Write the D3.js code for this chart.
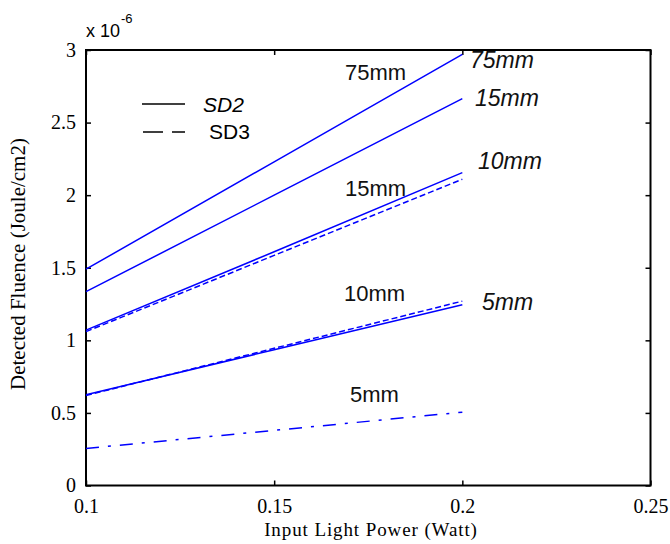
<!DOCTYPE html>
<html>
<head>
    <meta charset="utf-8">
    <title>Detected Fluence vs Input Light Power</title>
    <script src="https://d3js.org/d3.v7.min.js"></script>
    <style>
        body { margin: 0; background: #fff; }
    </style>
</head>
<body>
    <script>

        // data (fluence in units of 1e-6 Joule/cm2)
        var power = [0.1, 0.15, 0.2];
        var sd2_75mm = [1.49, 2.23, 2.97];
        var sd2_15mm = [1.335, 2.0, 2.665];
        var sd2_10mm = [1.07, 1.61, 2.155];
        var sd2_5mm = [0.625, 0.935, 1.245];
        var sd3_15mm = [1.06, 1.585, 2.11];
        var sd3_10mm = [0.62, 0.945, 1.27];
        var sd3_5mm = [0.255, 0.38, 0.505];

        var xTicks = [0.1, 0.15, 0.2, 0.25];
        var yTicks = [0, 0.5, 1, 1.5, 2, 2.5, 3];

        var margin = { top: 50, right: 19.5, bottom: 58.5, left: 86 };
        var width = 670 - margin.left - margin.right;
        var height = 544 - margin.top - margin.bottom;

        var svg = d3.select("body")
            .append("svg")
            .attr("width", 670)
            .attr("height", 544)
            .append("g")
            .attr("transform", "translate(" + margin.left + ", " + margin.top + ")");

        var xScale = d3.scaleLinear().domain([0.1, 0.25]).range([0, width]);
        var yScale = d3.scaleLinear().domain([0, 3]).range([height, 0]);

        var tickFont = "Liberation Serif, Times New Roman, serif";

        // axes with inward ticks on all sides
        var xb = svg.append("g")
            .attr("transform", "translate(0, " + height + ")")
            .call(d3.axisBottom(xScale).tickValues(xTicks).tickSize(-5).tickPadding(13)
                .tickFormat(function(d) { return String(d); }));
        var yl = svg.append("g")
            .call(d3.axisLeft(yScale).tickValues(yTicks).tickSize(-5).tickPadding(10)
                .tickFormat(function(d) { return String(d); }));
        svg.append("g")
            .call(d3.axisTop(xScale).tickValues(xTicks).tickSize(-5).tickFormat(""));
        svg.append("g")
            .attr("transform", "translate(" + width + ", 0)")
            .call(d3.axisRight(yScale).tickValues(yTicks).tickSize(-5).tickFormat(""));

        svg.selectAll(".domain").remove();
        svg.selectAll(".tick line").attr("stroke", "#000").attr("stroke-width", 1.5);
        [xb, yl].forEach(function(g) {
            g.selectAll("text")
                .style("font-family", tickFont)
                .style("font-size", "20px")
                .attr("fill", "#000");
        });

        svg.append("rect")
            .attr("width", width)
            .attr("height", height)
            .attr("fill", "none")
            .attr("stroke", "#000")
            .attr("stroke-width", 2);

        // exponent
        var expo = svg.append("text")
            .attr("x", 0)
            .attr("y", -13)
            .style("font-family", "Liberation Sans, Arial, sans-serif")
            .style("font-size", "18px")
            .text("x 10");
        expo.append("tspan")
            .attr("dy", -14)
            .attr("dx", 1)
            .style("font-size", "13px")
            .text("-6");

        // lines
        var line = d3.line()
            .x(function(d, i) { return xScale(power[i]); })
            .y(function(d) { return yScale(d); });

        var series = [
            { values: sd2_75mm, dash: null },
            { values: sd2_15mm, dash: null },
            { values: sd2_10mm, dash: null },
            { values: sd2_5mm, dash: null },
            { values: sd3_15mm, dash: "6,3" },
            { values: sd3_10mm, dash: "6,3" },
            { values: sd3_5mm, dash: "13,9,3,9" }
        ];

        svg.selectAll(".series")
            .data(series)
            .join("path")
            .attr("class", "series")
            .attr("d", function(d) { return line(d.values); })
            .attr("fill", "none")
            .attr("stroke", "#0000ff")
            .attr("stroke-width", 1.5)
            .attr("stroke-dasharray", function(d) { return d.dash; });

        // labels
        var labelFont = "Liberation Sans, Arial, sans-serif";
        var inner = [
            { t: "75mm", x: 259, y: 30 },
            { t: "15mm", x: 259, y: 146 },
            { t: "10mm", x: 258, y: 251 },
            { t: "5mm", x: 264, y: 352 }
        ];
        var outer = [
            { t: "75mm", x: 384, y: 18 },
            { t: "15mm", x: 389, y: 56 },
            { t: "10mm", x: 392, y: 119 },
            { t: "5mm", x: 396, y: 260 }
        ];
        svg.selectAll(".inner")
            .data(inner)
            .join("text")
            .attr("x", function(d) { return d.x; })
            .attr("y", function(d) { return d.y; })
            .style("font-family", labelFont)
            .style("font-size", "22px")
            .attr("fill", "#111")
            .text(function(d) { return d.t; });
        svg.selectAll(".outer")
            .data(outer)
            .join("text")
            .attr("x", function(d) { return d.x; })
            .attr("y", function(d) { return d.y; })
            .style("font-family", labelFont)
            .style("font-size", "23px")
            .style("font-style", "italic")
            .attr("fill", "#111")
            .text(function(d) { return d.t; });

        // legend
        svg.append("line")
            .attr("x1", 56).attr("x2", 99)
            .attr("y1", 54).attr("y2", 54)
            .attr("stroke", "#000").attr("stroke-width", 1.5);
        svg.append("line")
            .attr("x1", 57).attr("x2", 99)
            .attr("y1", 82).attr("y2", 82)
            .attr("stroke", "#000").attr("stroke-width", 1.5)
            .attr("stroke-dasharray", "20,9");
        svg.append("text")
            .attr("x", 117).attr("y", 62)
            .style("font-family", labelFont)
            .style("font-size", "21px")
            .style("font-style", "italic")
            .text("SD2");
        svg.append("text")
            .attr("x", 123).attr("y", 89)
            .style("font-family", labelFont)
            .style("font-size", "21px")
            .text("SD3");

        // axis titles
        svg.append("text")
            .attr("x", 285)
            .attr("y", height + 50)
            .attr("text-anchor", "middle")
            .style("font-family", tickFont)
            .style("font-size", "19px")
            .style("letter-spacing", "0.9px")
            .text("Input Light Power (Watt)");

        svg.append("text")
            .attr("x", -(264 - margin.top))
            .attr("y", -61)
            .attr("text-anchor", "middle")
            .attr("transform", "rotate(-90)")
            .style("font-family", tickFont)
            .style("font-size", "21px")
            .text("Detected Fluence (Joule/cm2)");

    </script>
</body>
</html>
